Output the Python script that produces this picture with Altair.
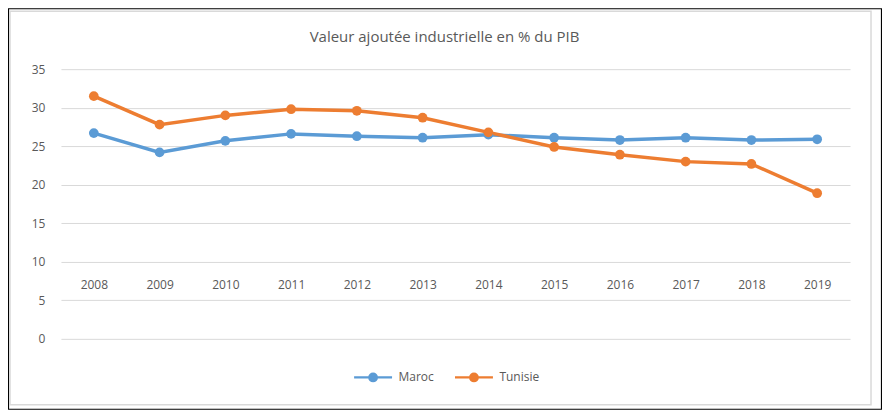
import altair as alt
import pandas as pd

years = ["2008", "2009", "2010", "2011", "2012", "2013", "2014", "2015", "2016", "2017", "2018", "2019"]
maroc = [26.7, 24.2, 25.7, 26.6, 26.3, 26.1, 26.5, 26.1, 25.8, 26.1, 25.8, 25.9]
tunisie = [31.5, 27.8, 29.0, 29.8, 29.6, 28.7, 26.8, 24.9, 23.9, 23.0, 22.7, 18.9]
series = ["Maroc", "Tunisie"]
colors = ["#5B9BD5", "#ED7D31"]
title_text = "Valeur ajoutée industrielle en % du PIB"

rows = []
for s, vals in zip(series, [maroc, tunisie]):
    for y, v in zip(years, vals):
        rows.append({"Année": y, "Série": s, "Valeur": v})
df = pd.DataFrame(rows)

W, H = 790, 270
PAD_L, PAD_T, PAD_R, PAD_B = 53, 61, 32, 71

sym_path = "M-1,0L1,0M-0.2,0A0.2,0.2,0,1,0,0.2,0A0.2,0.2,0,1,0,-0.2,0Z"

frame_df = pd.DataFrame({"k": [0]})
outer = alt.Chart(frame_df).mark_rect(fillOpacity=0, stroke="black", strokeWidth=1.2).encode(
    x=alt.value(-52.5), x2=alt.value(W + PAD_R - 0.5),
    y=alt.value(-60.5), y2=alt.value(H + PAD_B - 0.5),
)
inner = alt.Chart(frame_df).mark_rect(fillOpacity=0, stroke="#d9d9d9", strokeWidth=1.5).encode(
    x=alt.value(-51), x2=alt.value(811),
    y=alt.value(-58), y2=alt.value(336),
)
title = alt.Chart(pd.DataFrame({"t": [title_text]})).mark_text(
    font="Open Sans", fontSize=15, color="#595959", align="center", baseline="middle"
).encode(text="t:N", x=alt.value(384), y=alt.value(-32))

base = alt.Chart(df).encode(
    x=alt.X("Année:N", sort=years, title=None,
            scale=alt.Scale(padding=0.5),
            axis=alt.Axis(orient="bottom", offset=-59, domain=False, ticks=False, grid=False,
                          labelAngle=0, labelPadding=0, labelBaseline="top",
                          labelFont="Open Sans", labelFontSize=12, labelColor="#595959")),
    y=alt.Y("Valeur:Q", title=None,
            scale=alt.Scale(domain=[0, 35], nice=False, zero=True),
            axis=alt.Axis(values=[0, 5, 10, 15, 20, 25, 30, 35], domain=False, ticks=False,
                          gridColor="#d9d9d9", gridWidth=1, labelPadding=16,
                          labelFont="Open Sans", labelFontSize=12, labelColor="#595959")),
    color=alt.Color("Série:N", sort=series, title=None,
                    scale=alt.Scale(domain=series, range=colors),
                    legend=alt.Legend(orient="none", legendX=292, legendY=288, direction="horizontal",
                                      symbolType=sym_path, symbolSize=1444, symbolStrokeWidth=2.2,
                                      labelFont="Open Sans", labelFontSize=12, labelColor="#595959",
                                      labelOffset=5, columnPadding=16, padding=0)),
)

lines = base.mark_line(strokeWidth=3.5)
points = base.mark_point(filled=True, size=95, opacity=1)

chart = alt.layer(lines, points, outer, inner, title).properties(
    width=W, height=H,
    autosize=alt.AutoSizeParams(type="none"),
    padding={"left": PAD_L, "top": PAD_T, "right": PAD_R, "bottom": PAD_B},
).configure(background="white", view=alt.ViewConfig(stroke=None))

chart.save("out.html", embed_options={"renderer": "svg", "actions": False})
